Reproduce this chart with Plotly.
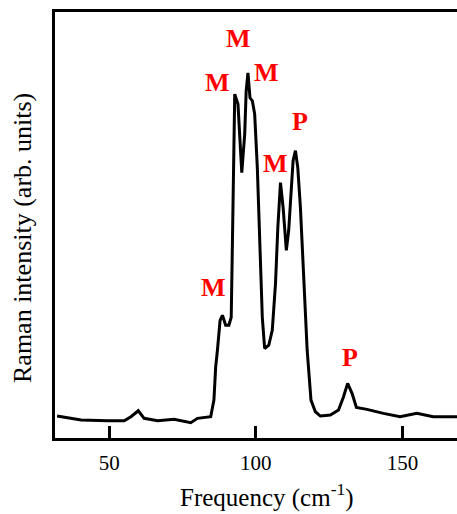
import plotly.graph_objects as go

# Raman spectrum (frequency in cm^-1, intensity in arb. units)
freq = [32.2, 40.4, 49.5, 55.1, 57.4, 59.9, 61.9, 66.5, 72.1, 77.8, 80.1, 84.6, 85.7, 86.3,
        86.9, 87.8, 88.6, 89.7, 90.8, 91.6, 92.0, 92.3, 92.8, 93.9, 94.6, 95.2, 96.2, 96.7,
        97.3, 98.0, 98.8, 99.6, 100.5, 101.3, 102.2, 103.0, 104.4, 105.6, 106.7, 107.5, 107.8,
        108.4, 109.3, 110.4, 111.2, 112.0, 112.7, 113.5, 114.3, 115.2, 116.3, 117.5, 118.8,
        120.3, 122.0, 125.4, 128.2, 129.9, 131.3, 132.8, 134.3, 137.9, 143.5, 149.2, 154.9,
        160.5, 168.6]
intensity = [22, 18, 17.3, 17.3, 21.3, 27.3, 19.7, 17.3, 18.7, 15.3, 19.7, 21.3, 38, 71.3,
             88, 118, 123, 113, 113, 121, 194.7, 271, 344.7, 334.7, 298, 266, 304.7, 348,
             366, 341, 338, 324.7, 271, 198, 121, 89.7, 93, 108, 154.7, 211.3, 231,
             256, 231, 188, 208, 251, 278, 288, 271, 231, 154.7, 88, 38,
             26.3, 22, 23, 28, 41.3, 54.7, 44.7, 30.7, 28.7, 24.7, 21.3, 24.7,
             21.3, 21.3]

# Peak assignments
label_text = ["M", "M", "M", "M", "P", "M", "P"]
label_x = [86.9, 94.0, 103.5, 106.7, 114.9, 85.4, 132.2]
label_y = [356, 400, 366, 274.7, 317, 151.3, 80.3]

x_ticks = [50, 100, 150]
x_title = "Frequency (cm<sup>-1</sup>)"
y_title = "Raman intensity (arb. units)"

fig = go.Figure()
fig.add_trace(go.Scatter(x=freq, y=intensity, mode="lines",
                         line=dict(color="black", width=3), showlegend=False,
                         hoverinfo="skip"))

for t, x, y in zip(label_text, label_x, label_y):
    fig.add_annotation(x=x, y=y, text="<b>%s</b>" % t, showarrow=False,
                       font=dict(family="Liberation Serif", size=26, color="#ff0000"))

# axis titles placed as paper annotations (the original figure is cropped on the right)
fig.add_annotation(xref="paper", yref="paper", x=(267 - 55) / 402, y=(438 - 495) / 426,
                   xanchor="center", yanchor="middle", text=x_title, showarrow=False,
                   font=dict(family="Liberation Serif", size=25, color="black"))
fig.add_annotation(xref="paper", yref="paper", x=(22 - 55) / 402, y=(438 - 238) / 426,
                   xanchor="center", yanchor="middle", text=y_title, textangle=-90,
                   showarrow=False,
                   font=dict(family="Liberation Serif", size=26, color="black"))

fig.update_layout(
    width=457, height=514,
    margin=dict(l=55, r=0, t=12, b=76),
    paper_bgcolor="white", plot_bgcolor="white",
    font=dict(family="Liberation Serif", size=21, color="black"),
    xaxis=dict(range=[31.5, 168.6], tickvals=x_ticks, ticks="inside", ticklen=12,
               tickwidth=3, tickcolor="black", showline=True, linewidth=3,
               linecolor="black", mirror=True, showgrid=False, zeroline=False,
               ticklabelstandoff=4, tickfont=dict(size=21)),
    yaxis=dict(range=[0, 427], showticklabels=False, ticks="", showline=True,
               linewidth=3, linecolor="black", showgrid=False, zeroline=False),
)

fig.write_html("out.html", config={"displayModeBar": False},
               post_script="document.body.style.margin='0';"
                           "document.body.style.overflow='hidden';")
